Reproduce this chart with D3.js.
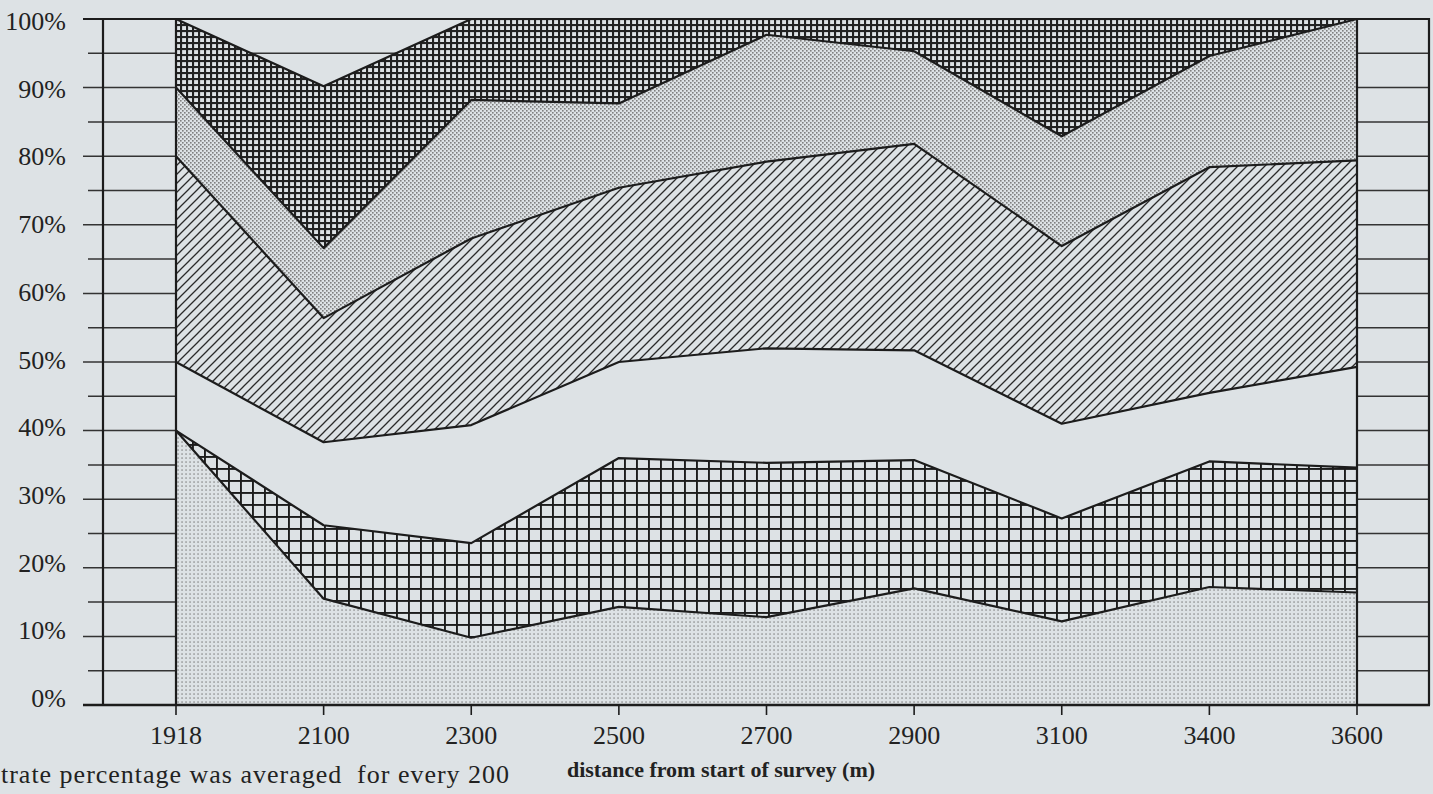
<!DOCTYPE html>
<html><head><meta charset="utf-8">
<script src="https://cdn.jsdelivr.net/npm/d3@7"></script>
<style>html,body{margin:0;padding:0;background:#dde2e5;}svg{display:block;}</style>
</head><body>
<svg id="chart" width="1433" height="794"></svg>
<script>
// ---- data ----
const categories = ["1918","2100","2300","2500","2700","2900","3100","3400","3600"];
const sparseDots = [40, 15.5, 9.8, 14.3, 12.8, 17, 12.2, 17.2, 16.4];
const openGrid   = [0, 10.7, 13.8, 21.7, 22.5, 18.7, 15, 18.3, 18.2];
const blankBand  = [10, 12.1, 17.2, 14, 16.7, 16, 13.8, 10, 14.7];
const hatched    = [30, 18.1, 27.2, 25.4, 27.2, 30.1, 25.9, 32.9, 30.1];
const stipple    = [10, 10.2, 20.2, 12.3, 18.5, 13.5, 16, 16.2, 20.6];
const denseGrid  = [10, 23.6, 11.8, 12.3, 2.3, 4.7, 17.1, 5.4, 0];
const yTicks = [0,10,20,30,40,50,60,70,80,90,100];
const yLabels = ["0%","10%","20%","30%","40%","50%","60%","70%","80%","90%","100%"];
const xTitle = "distance from start of survey (m)";
const footnote = "trate percentage was averaged  for every 200";

const BG = "#dde2e5", INK = "#1c1c1c";
const svg = d3.select("#chart");
svg.append("rect").attr("width",1433).attr("height",794).attr("fill",BG);

const x = d3.scalePoint().domain(categories).range([176, 1357]);
const y = d3.scaleLinear().domain([0,100]).range([705, 19]);
const yLab = d3.scaleLinear().domain([0,100]).range([707, 30]);

// ---- patterns ----
const defs = svg.append("defs");
function pat(id, w, h){
  const p = defs.append("pattern").attr("id",id).attr("patternUnits","userSpaceOnUse")
    .attr("width",w).attr("height",h);
  p.append("rect").attr("width",w).attr("height",h).attr("fill",BG);
  return p;
}
let p = pat("pDots",4,4);
p.append("rect").attr("x",1.4).attr("y",1.4).attr("width",1.3).attr("height",1.3).attr("fill","#7a7a7a");
p = pat("pGrid",12,12);
p.append("rect").attr("x",0).attr("y",0).attr("width",12).attr("height",1.9).attr("fill",INK);
p.append("rect").attr("x",0).attr("y",0).attr("width",1.9).attr("height",12).attr("fill",INK);
p = pat("pHatch",9,9);
p.append("path").attr("d","M0,9 L9,0 M-2,2 L2,-2 M7,11 L11,7").attr("stroke","#2a2a2a").attr("stroke-width",1.3);
p = pat("pStip",4,4);
p.append("rect").attr("x",0).attr("y",0).attr("width",1.6).attr("height",1.6).attr("fill","#7f7f7f");
p.append("rect").attr("x",2).attr("y",2).attr("width",1.6).attr("height",1.6).attr("fill","#7f7f7f");
p = pat("pDense",6,6);
p.append("rect").attr("x",0).attr("y",0).attr("width",6).attr("height",2.1).attr("fill","#222");
p.append("rect").attr("x",0).attr("y",0).attr("width",2.1).attr("height",6).attr("fill","#222");

// ---- background gridlines (every 5%) ----
const g5 = d3.range(0,101,5);
svg.append("g").selectAll("line").data(g5).join("line")
  .attr("x1",d=> d%10===0 ? 83 : 88).attr("x2",1429)
  .attr("y1",d=>y(d)).attr("y2",d=>y(d))
  .attr("stroke","#333").attr("stroke-width",1.5);

// ---- stacked areas ----
const keys = ["sparseDots","openGrid","blankBand","hatched","stipple","denseGrid"];
const series = {sparseDots, openGrid, blankBand, hatched, stipple, denseGrid};
const fills = {sparseDots:"url(#pDots)", openGrid:"url(#pGrid)", blankBand:BG,
  hatched:"url(#pHatch)", stipple:"url(#pStip)", denseGrid:"url(#pDense)"};
const rows = categories.map((c,i)=>{ const r={cat:c}; keys.forEach(k=>r[k]=series[k][i]); return r; });
const stacked = d3.stack().keys(keys)(rows);
const area = d3.area().x(d=>x(d.data.cat)).y0(d=>y(d[0])).y1(d=>y(d[1]));
svg.append("g").selectAll("path").data(stacked).join("path")
  .attr("d",area).attr("fill",d=>fills[d.key]);

// boundary lines
const line = d3.line().x(d=>x(d.data.cat)).y(d=>y(d[1]));
svg.append("g").selectAll("path").data(stacked).join("path")
  .attr("d",line).attr("fill","none").attr("stroke",INK).attr("stroke-width",2.2)
  .attr("stroke-linejoin","round");

// frame verticals
[103, x(categories[0]), x(categories[categories.length-1]), 1429].forEach(xx=>{
  svg.append("line").attr("x1",xx).attr("x2",xx).attr("y1",y(100)-1).attr("y2",y(0))
    .attr("stroke",INK).attr("stroke-width",2.2);
});
svg.append("line").attr("x1",83).attr("x2",1430).attr("y1",y(0)).attr("y2",y(0))
  .attr("stroke",INK).attr("stroke-width",2.4);
svg.append("line").attr("x1",83).attr("x2",1430).attr("y1",y(100)).attr("y2",y(100))
  .attr("stroke",INK).attr("stroke-width",2);

// ---- y labels ----
svg.append("g").selectAll("text").data(yTicks).join("text")
  .attr("x",66).attr("y",d=>yLab(d)).attr("text-anchor","end")
  .attr("font-family","'Liberation Serif', serif").attr("font-size",26).attr("fill","#222")
  .text((d,i)=>yLabels[i]);

// ---- x axis ticks & labels ----
const xg = svg.append("g");
xg.selectAll("line").data(categories).join("line")
  .attr("x1",d=>x(d)).attr("x2",d=>x(d)).attr("y1",y(0)).attr("y2",y(0)+10)
  .attr("stroke",INK).attr("stroke-width",1.6);
xg.selectAll("text").data(categories).join("text")
  .attr("x",d=>x(d)).attr("y",744).attr("text-anchor","middle")
  .attr("font-family","'Liberation Serif', serif").attr("font-size",26).attr("fill","#222")
  .text(d=>d);

svg.append("text").attr("x",721).attr("y",777).attr("text-anchor","middle")
  .attr("font-family","'Liberation Serif', serif").attr("font-size",22).attr("font-weight","bold")
  .attr("fill","#222").text(xTitle);
svg.append("text").attr("x",1).attr("y",783).attr("text-anchor","start")
  .attr("xml:space","preserve").style("white-space","pre")
  .attr("textLength",508).attr("lengthAdjust","spacing")
  .attr("font-family","'Liberation Serif', serif").attr("font-size",26).attr("fill","#222")
  .text(footnote);
</script>
</body></html>
